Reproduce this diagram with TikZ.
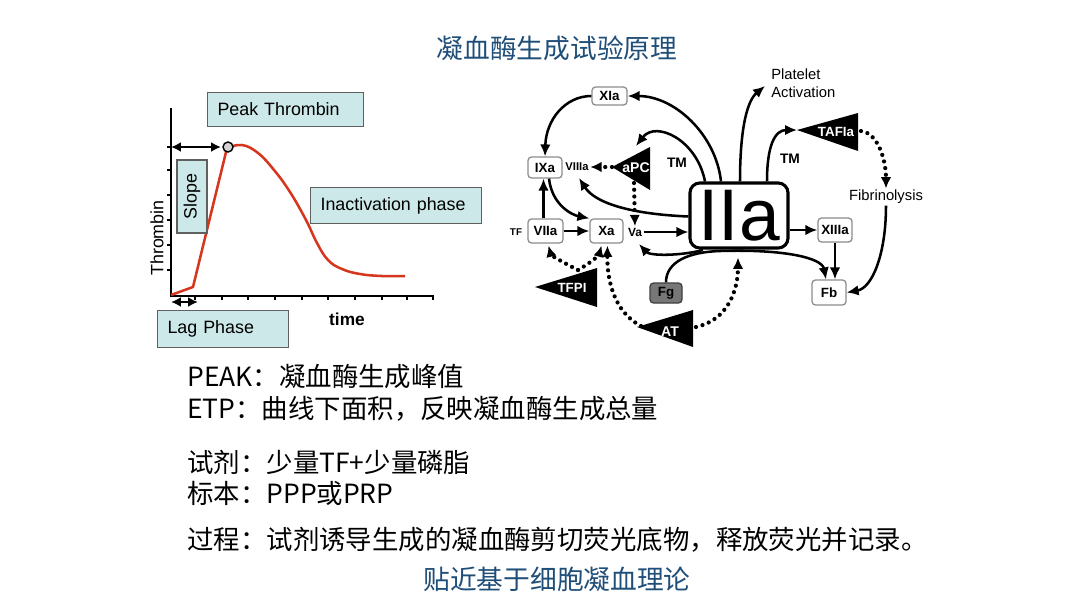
\documentclass[tikz,border=0pt]{standalone}
\usepackage{fontspec}
\setmainfont{Liberation Sans}
\newfontfamily\cjkfont{Noto Sans CJK SC}
\usetikzlibrary{arrows.meta,calc}
\definecolor{titleblue}{HTML}{1F4E79}
\definecolor{tealbox}{HTML}{CDE8E9}
\definecolor{curvered}{HTML}{D7361E}
\definecolor{boxgray}{HTML}{8C8C8C}
\definecolor{fggray}{HTML}{777777}
\newcommand{\myfs}[1]{\fontsize{#1}{#1}\selectfont}
\begin{document}
\begin{tikzpicture}[x=0.025cm,y=-0.025cm,
  tbox/.style={draw=gray!75!black, line width=0.8pt, fill=tealbox, font=\myfs{12.7}, inner xsep=0.25cm, inner ysep=0pt, align=left, anchor=north west},
  fbox/.style={draw=boxgray, line width=0.9pt, rounded corners=2.5pt, fill=white, font=\myfs{9.5}\bfseries, inner sep=0pt},
  lab/.style={font=\myfs{9.8}\bfseries, inner sep=1pt},
  trilab/.style={font=\myfs{9.5}\bfseries, text=white, inner sep=0pt},
  sarrow/.style={line width=1.8pt, -{Latex[length=8.5pt,width=7.5pt]}},
  darrow/.style={line width=3pt, line cap=round, dash pattern=on 0pt off 4.8pt, -{Latex[length=8pt,width=7.5pt]}},
  dblarrow/.style={line width=1.6pt, {Latex[length=7pt,width=7pt]}-{Latex[length=7pt,width=7pt]}},
  cjkline/.style={anchor=west, font=\cjkfont\myfs{18.8}, inner sep=0pt}
]
\fill[white] (0,0) rectangle (1080,608);

% ---------- titles and text ----------
\node[font=\cjkfont\myfs{19}, text=titleblue] (title) at (557,48) {凝血酶生成试验原理};
\node[cjkline] (t1) at (187,377) {PEAK：凝血酶生成峰值};
\node[cjkline] (t2) at (187,409) {ETP：曲线下面积，反映凝血酶生成总量};
\node[cjkline] (t3) at (187,462) {试剂：少量TF+少量磷脂};
\node[cjkline] (t4) at (187,493) {标本：PPP或PRP};
\node[cjkline] (t5) at (187,540) {过程：试剂诱导生成的凝血酶剪切荧光底物，释放荧光并记录。};
\node[font=\cjkfont\myfs{19}, text=titleblue] (bottom) at (557,579) {贴近基于细胞凝血理论};

% ---------- thrombin generation curve ----------
\draw[line width=1.1pt] (171,108) -- (171,296) -- (434,296);
\foreach \yy in {147,170,195,220,245,270} \draw[line width=0.8pt] (167,\yy) -- (171,\yy);
\foreach \xx in {195,222,248,275,302,328,355,382,407,433} \draw[line width=0.8pt] (\xx,296) -- (\xx,300);
\draw[curvered, line width=1.8pt, line join=round] (171,295) -- (193,287) -- plot[smooth, tension=0.7] coordinates {(227,148) (242,145) (258,153) (274,170) (290,192) (306,220) (317,243) (328,260) (342,269) (360,274) (382,276) (405,276)};
\node[circle, draw, line width=1pt, fill=gray!35, minimum size=0.25cm, inner sep=0pt] (peak) at (228,147) {};
\coordinate (pa1) at (171,147);
\coordinate (pa2) at (221,147);
\draw[dblarrow] (pa1) -- (pa2);
\coordinate (la1) at (171,302);
\coordinate (la2) at (198,302);
\draw[dblarrow] (la1) -- (la2);

\node[tbox, text width=3.4cm, minimum height=0.85cm] (bpeak) at (207,92) {Peak Thrombin};
\node[tbox, anchor=center, align=center, rotate=90, minimum width=1.825cm, minimum height=0.75cm, inner xsep=0pt] (bslope) at (192,196.5) {Slope};
\node[tbox, text width=3.775cm, minimum height=0.9cm] (binact) at (310,187) {Inactivation phase};
\node[tbox, text width=2.775cm, minimum height=0.925cm] (blag) at (157,310) {Lag Phase};
\node[rotate=90, font=\myfs{12.7}, inner sep=0pt] (ylab) at (157,238) {Thrombin};
\node[font=\myfs{12.3}\bfseries, inner sep=0pt] (xlab) at (347,319) {time};

% ---------- coagulation scheme ----------
\node[draw, line width=2.2pt, rounded corners=7pt, minimum width=2.45cm, minimum height=1.625cm, inner sep=0pt, font=\myfs{52}] (IIa) at (739,215.5) {IIa};

\node[fbox, minimum width=0.875cm, minimum height=0.45cm] (XIa) at (609.5,96) {XIa};
\node[fbox, minimum width=0.85cm, minimum height=0.525cm] (IXa) at (545,167.5) {IXa};
\node[fbox, minimum width=0.875cm, minimum height=0.6cm] (VIIa) at (545.5,231) {VIIa};
\node[fbox, minimum width=0.825cm, minimum height=0.6cm] (Xa) at (606.5,231) {Xa};
\node[fbox, minimum width=0.85cm, minimum height=0.6cm] (XIIIa) at (835,230) {XIIIa};
\node[fbox, minimum width=0.85cm, minimum height=0.625cm] (Fb) at (829,292.5) {Fb};
\node[fbox, fill=fggray, draw=black!75, minimum width=0.8cm, minimum height=0.5cm] (Fg) at (666,293) {Fg};

\node[lab, font=\myfs{8}\bfseries] (VIIIa) at (577,167) {VIIIa};
\node[lab, font=\myfs{8.5}\bfseries] (Va) at (635,232) {Va};
\node[lab, font=\myfs{7}\bfseries] (TF) at (516,232) {TF};
\node[lab] (TM1) at (677,163) {TM};
\node[lab] (TM2) at (790,159) {TM};
\node[anchor=north west, align=left, font=\fontsize{10.5}{12.8}\selectfont, inner sep=0pt] (plt) at (771,69) {Platelet\\Activation};
\node[font=\myfs{10.5}, inner sep=1pt] (Fib) at (886,197) {Fibrinolysis};

% triangles
\coordinate (aPCtip) at (612,167);
\fill (aPCtip) -- (650,147) -- (650,190) -- cycle;
\node[trilab, font=\myfs{10}\bfseries] (aPC) at (636,168) {aPC};
\coordinate (TFPItip) at (535,287);
\fill (TFPItip) -- (597,268) -- (597,307) -- cycle;
\node[trilab] (TFPI) at (572,288) {TFPI};
\coordinate (ATtip) at (637,327);
\fill (ATtip) -- (693,310) -- (693,347) -- cycle;
\node[trilab, font=\myfs{10}\bfseries] (AT) at (670,332) {AT};
\coordinate (TAFIatip) at (797,130);
\fill (TAFIatip) -- (858,113) -- (858,151) -- cycle;
\node[trilab] (TAFIa) at (836,132) {TAFIa};

% solid connectors
\draw[sarrow] ($(IIa.north)+(-18,0)$) .. controls (716,135) and (675,96) .. (XIa.east);
\draw[sarrow] ($(IIa.north)+(-34,0)$) .. controls (697,140) and (656,120) .. (636,146);
\draw[sarrow] ($(IIa.north)+(1,0)$) .. controls (740,125) and (748,100) .. (765,86);
\draw[sarrow] ($(IIa.north)+(28,0)$) .. controls (767,145) and (775,130) .. (TAFIatip);
\draw[sarrow] (IIa.east |- XIIIa.west) -- (XIIIa.west);
\draw[sarrow] (XIIIa.south) -- (XIIIa.south |- Fb.north);
\draw[sarrow] (Fib.south) .. controls (886,255) and (872,288) .. (Fb.east);
\draw[sarrow] (Fg.north) .. controls (666,262) and (688,252) .. (720,251) .. controls (785,249) and (822,258) .. ($(Fb.north)+(-3,0)$);
\draw[sarrow] (703,250) .. controls (680,256) and (650,256) .. (639,244);
\draw[sarrow] (Va.east) -- (IIa.west |- Va.east);
\draw[sarrow] ($(IIa.west)+(0,1)$) .. controls (630,214) and (595,203) .. (579,178);
\draw[sarrow] (XIa.west) .. controls (565,96) and (546,120) .. (IXa.north);
\draw[sarrow] ($(VIIa.north)+(-2,0)$) -- ($(VIIa.north |- IXa.south)+(-2,0)$);
\draw[sarrow] ($(IXa.south)+(4,0)$) .. controls (552,205) and (572,215) .. (Xa.north west);
\draw[sarrow] (VIIa.east) -- (Xa.west);

% dotted connectors
\draw[darrow] (aPCtip) -- (VIIIa.east);
\draw[darrow] (634,183) -- (Va.north);
\draw[darrow] (861,131) .. controls (878,133) and (886,160) .. (Fib.north);
\coordinate (TFPItop) at (578,270);
\draw[darrow] (TFPItop) .. controls (562,262) and (551,255) .. ($(VIIa.south)+(3,2)$);
\draw[darrow] (TFPItop) .. controls (592,262) and (599,255) .. ($(Xa.south)+(-5,2)$);
\draw[darrow] ($(ATtip)+(4,-1)$) .. controls (614,312) and (607,280) .. ($(Xa.south)+(1,2)$);
\draw[darrow] (696,327) .. controls (728,320) and (738,290) .. ($(IIa.south)+(-1,8)$);
\end{tikzpicture}
\end{document}
